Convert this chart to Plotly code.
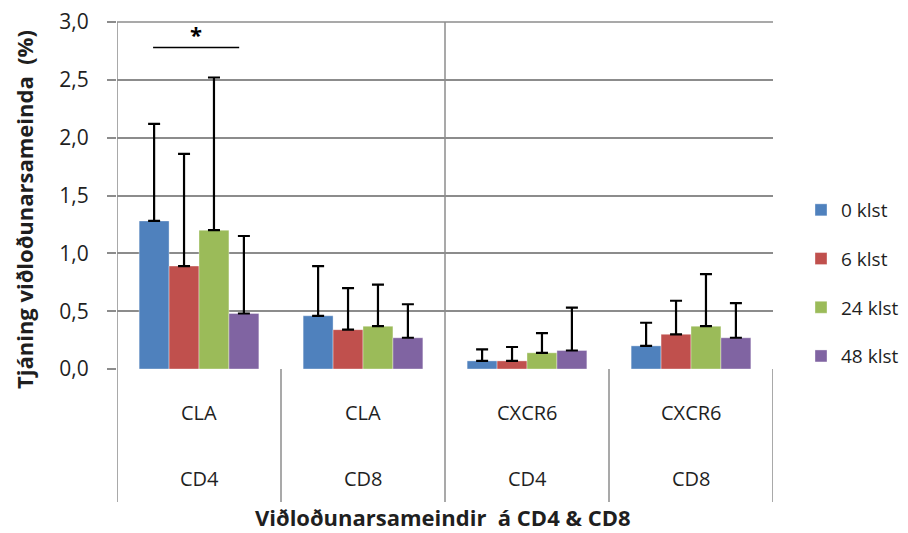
import plotly.graph_objects as go

# ---- data ----
markers = ["CLA", "CLA", "CXCR6", "CXCR6"]
cells = ["CD4", "CD8", "CD4", "CD8"]
series_names = ["0 klst", "6 klst", "24 klst", "48 klst"]
vals_0 = [1.28, 0.46, 0.07, 0.20]
vals_6 = [0.89, 0.34, 0.07, 0.30]
vals_24 = [1.20, 0.37, 0.14, 0.37]
vals_48 = [0.48, 0.27, 0.16, 0.27]
err_0 = [0.84, 0.43, 0.10, 0.20]
err_6 = [0.97, 0.36, 0.12, 0.29]
err_24 = [1.32, 0.36, 0.17, 0.45]
err_48 = [0.67, 0.29, 0.37, 0.30]
y_ticks = [0.0, 0.5, 1.0, 1.5, 2.0, 2.5, 3.0]

colors = ["#4F81BD", "#C0504D", "#9BBB59", "#8064A2"]
FONT = "'Open Sans', Lato, sans-serif"
GRID = "#8C8C8C"
TXT = "#1f1f1f"

x_pos = list(range(len(markers)))
all_vals = [vals_0, vals_6, vals_24, vals_48]
all_errs = [err_0, err_6, err_24, err_48]

fig = go.Figure()
for i, (name, v, e) in enumerate(zip(series_names, all_vals, all_errs)):
    fig.add_trace(go.Bar(
        x=x_pos, y=v, name=name, legendgroup=name,
        marker=dict(color=colors[i], line=dict(width=0.6, color="rgba(255,255,255,0.6)")),
        error_y=dict(type="data", array=e, arrayminus=[0] * len(e), symmetric=False,
                     color="black", thickness=2.2, width=6),
    ))

# page has an 8px body margin; plot area in page pixels: x 117..773, y 22..369
OFF = 8
H = 369 - 22
W = 773 - 117
bottom_px = 502
yb = (369 - bottom_px) / H

shapes = []
for xb in [-0.5, 0.5, 1.5, 2.5, 3.5]:
    shapes.append(dict(type="line", xref="x", yref="paper", x0=xb, x1=xb, y0=yb, y1=0,
                       line=dict(color=GRID, width=1.5)))
for xb in [-0.5, 1.5]:
    shapes.append(dict(type="line", xref="x", yref="paper", x0=xb, x1=xb, y0=0, y1=1,
                       line=dict(color=GRID, width=1.5)))
# top border (3,0 gridline)
shapes.append(dict(type="line", xref="paper", yref="paper", x0=0, x1=1, y0=1, y1=1,
                   line=dict(color=GRID, width=1.5)))
shapes.append(dict(type="line", xref="x", yref="y", x0=-0.28, x1=0.245, y0=2.78, y1=2.78,
                   line=dict(color="black", width=1.6)))

annotations = []
for i, (m, c) in enumerate(zip(markers, cells)):
    annotations.append(dict(x=i, y=(369 - 412) / H, xref="x", yref="paper", text=m,
                            xanchor="center", yanchor="middle", showarrow=False,
                            font=dict(family=FONT, size=20, color=TXT)))
    annotations.append(dict(x=i, y=(369 - 478) / H, xref="x", yref="paper", text=c,
                            xanchor="center", yanchor="middle", showarrow=False,
                            font=dict(family=FONT, size=20, color=TXT)))
annotations.append(dict(x=(443 - 117) / W, y=(369 - 517) / H, xref="paper", yref="paper",
                        text="<b>Viðloðunarsameindir  á CD4 & CD8</b>", showarrow=False,
                        xanchor="center", yanchor="middle",
                        font=dict(family=FONT, size=22, color=TXT)))
annotations.append(dict(x=(24 - 117) / W, y=(369 - 210) / H, xref="paper", yref="paper",
                        text="<b>Tjáning viðloðunarsameinda  (%)</b>", textangle=-90,
                        xanchor="center", yanchor="middle", showarrow=False,
                        font=dict(family=FONT, size=22, color=TXT)))
annotations.append(dict(x=-0.02, y=2.9, xref="x", yref="y", text="<b>*</b>", showarrow=False,
                        font=dict(family=FONT, size=22, color="black")))

fig.update_layout(
    width=908 - OFF, height=533 - OFF,
    margin=dict(l=117 - OFF, r=908 - 773, t=22 - OFF, b=533 - 369, autoexpand=False),
    paper_bgcolor="white", plot_bgcolor="white",
    barmode="group", bargap=0.27, bargroupgap=0,
    separators=",.",
    font=dict(family=FONT, size=20, color=TXT),
    xaxis=dict(range=[-0.5, 3.5], showticklabels=False, showgrid=False, zeroline=False,
               showline=False, ticks="", automargin=False),
    yaxis=dict(range=[0, 3.0], tickvals=y_ticks, tickformat=".1f", showgrid=True,
               gridcolor=GRID, gridwidth=1.5, zeroline=False, showline=False,
               ticks="outside", ticklen=9, tickcolor=GRID, tickwidth=1.5, automargin=False,
               ticklabeloverflow="allow", ticklabelstandoff=14,
               tickfont=dict(family=FONT, size=21, color=TXT)),
    legend=dict(x=(801 - 117) / W, xanchor="left", y=(369 - 283) / H, yanchor="middle",
                font=dict(family=FONT, size=19, color=TXT), tracegroupgap=21,
                bgcolor="rgba(0,0,0,0)", itemwidth=30),
    shapes=shapes, annotations=annotations,
    showlegend=True,
)

fig.write_html("out.html")
